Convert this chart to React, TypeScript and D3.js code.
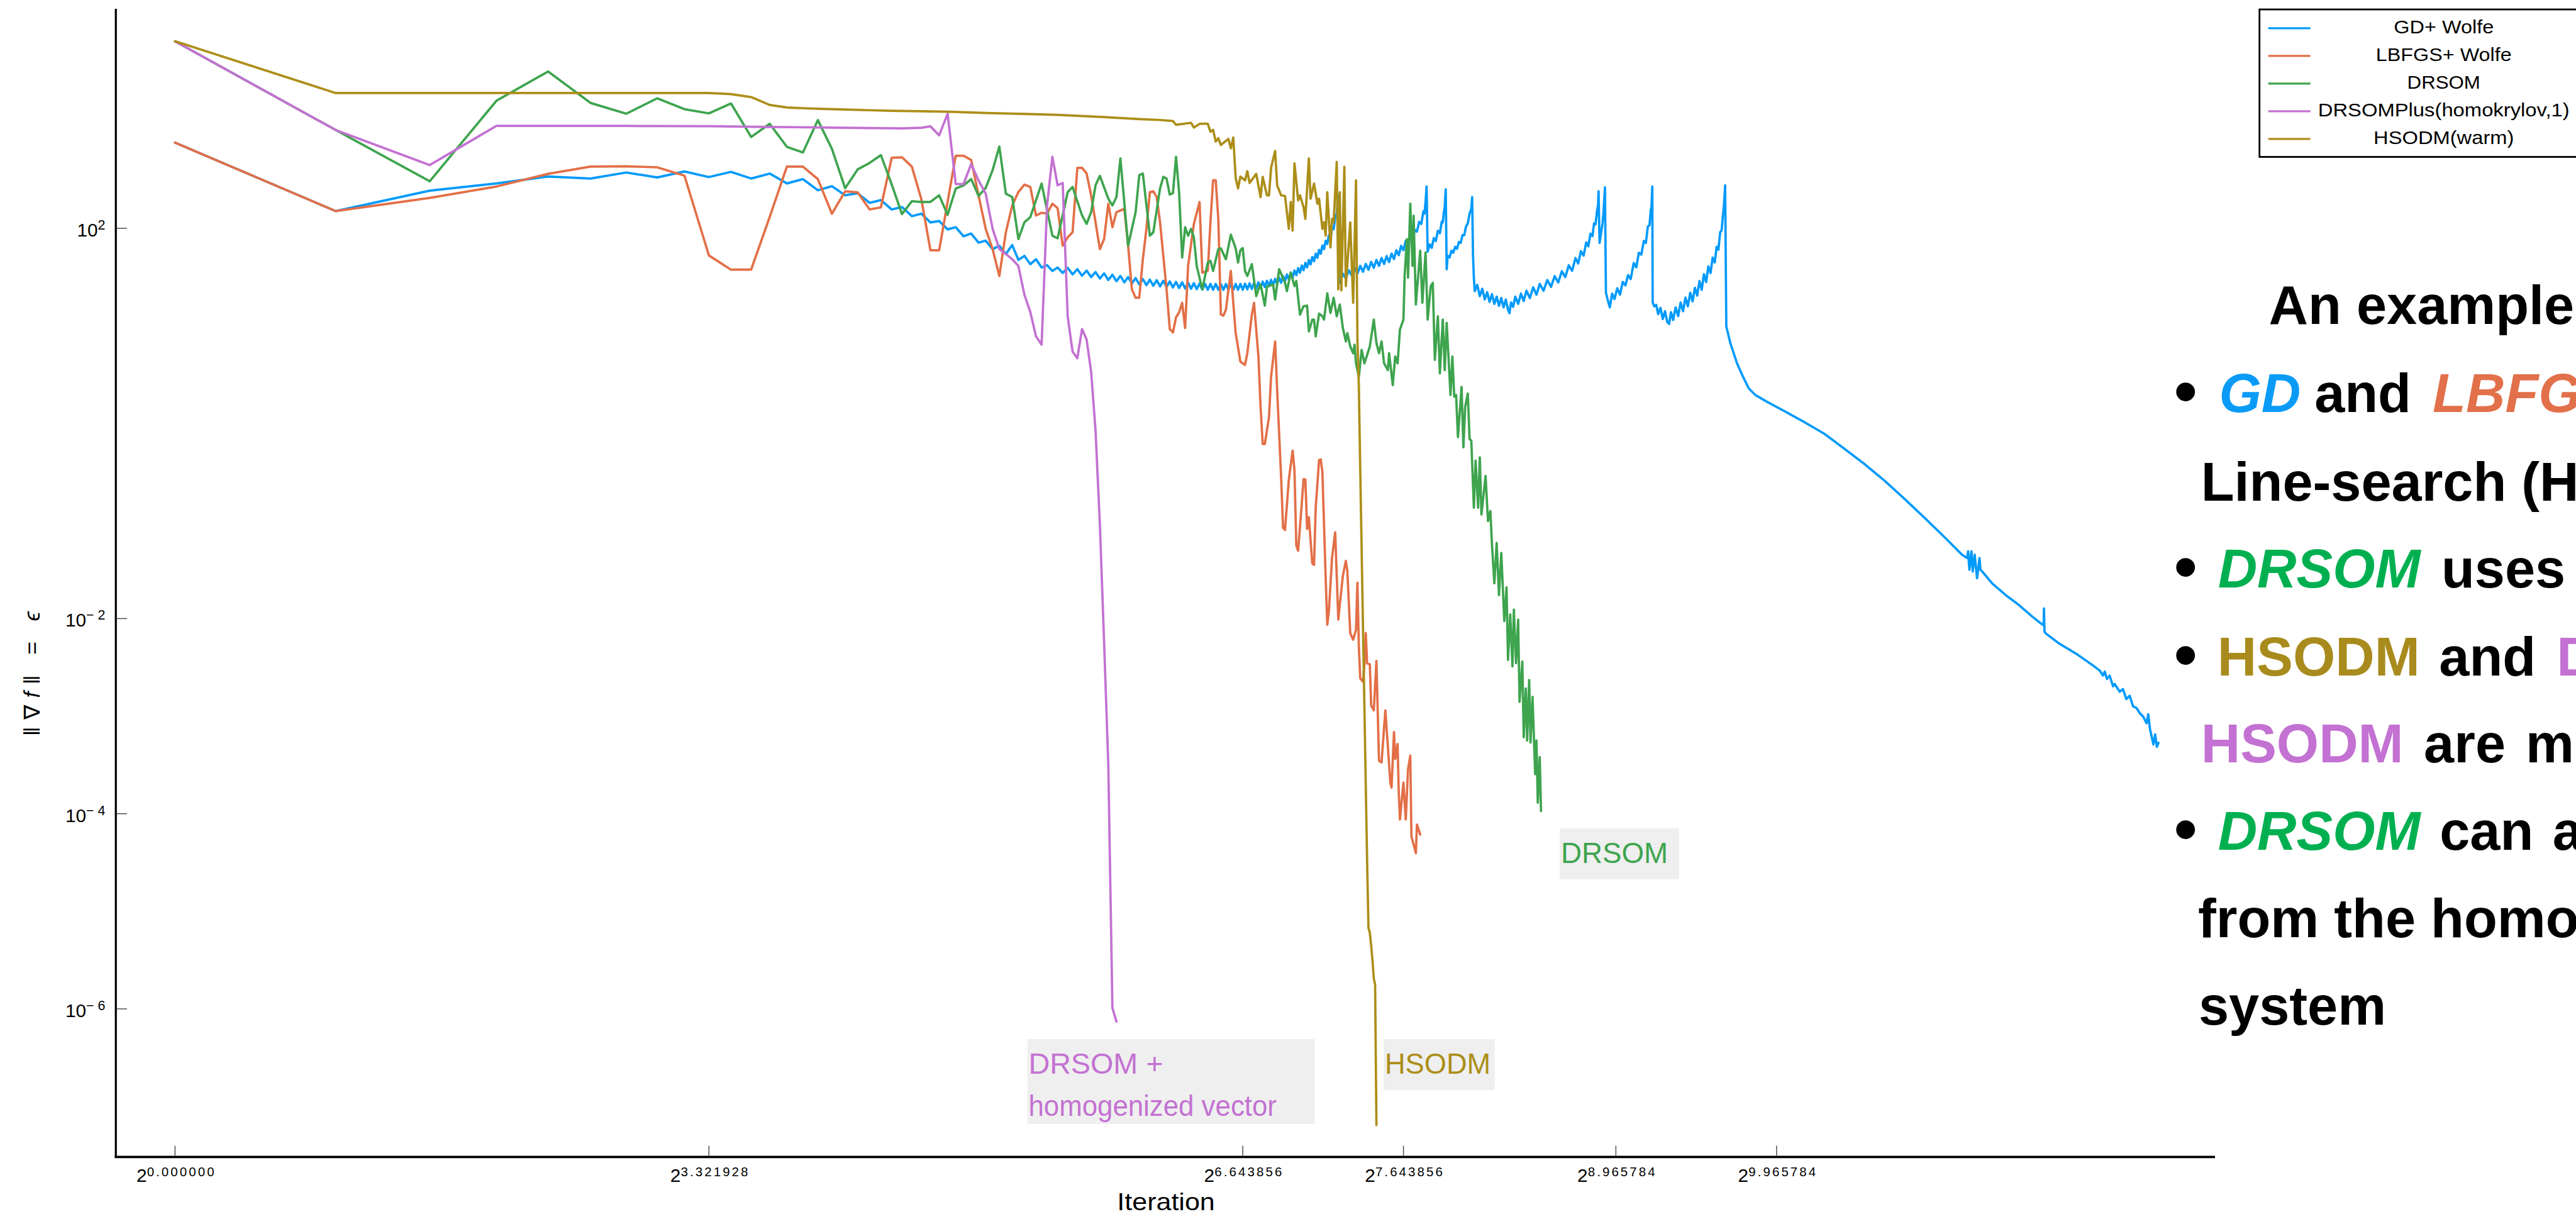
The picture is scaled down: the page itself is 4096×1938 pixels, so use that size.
import React from "react";
import * as d3 from "d3";

type Pt = [number, number];

// Each series: [iteration, log10 of ‖∇f‖]
const gdWolfe: Pt[] = [
  [1, 2.878], [2, 2.176], [3, 2.386], [4, 2.46], [5, 2.531], [6, 2.51], [7, 2.572], [8, 2.521], [9, 2.582], [10, 2.525],
  [11, 2.578], [12, 2.51], [13, 2.561], [14, 2.46], [15, 2.504], [16, 2.39], [17, 2.432], [18, 2.338], [19, 2.36], [20, 2.261],
  [21, 2.289], [22, 2.193], [23, 2.218], [24, 2.124], [25, 2.15], [26, 2.06], [27, 2.075], [28, 1.989], [29, 2.011], [30, 1.918],
  [31, 1.946], [32, 1.853], [33, 1.873], [34, 1.787], [35, 1.821], [36, 1.736], [37, 1.828], [38, 1.676], [39, 1.718], [40, 1.632],
  [41, 1.683], [42, 1.598], [43, 1.622], [44, 1.563], [45, 1.598],
  [46, 1.542], [47, 1.595], [48, 1.528], [49, 1.581], [50, 1.514], [51, 1.567], [52, 1.5], [53, 1.552], [54, 1.485], [55, 1.538],
  [56, 1.47], [57, 1.524], [58, 1.458], [59, 1.512], [60, 1.446], [61, 1.5], [62, 1.435], [63, 1.49], [64, 1.425], [65, 1.48],
  [66, 1.417], [67, 1.474], [68, 1.411], [69, 1.468], [70, 1.405], [71, 1.462], [72, 1.399], [73, 1.456], [74, 1.393], [75, 1.45],
  [76, 1.388], [77, 1.446], [78, 1.384], [79, 1.442], [80, 1.38], [81, 1.438], [82, 1.376], [83, 1.434], [84, 1.372], [85, 1.43],
  [86, 1.37], [87, 1.43], [88, 1.37], [89, 1.43], [90, 1.37], [91, 1.43], [92, 1.37], [93, 1.43], [94, 1.37], [95, 1.43],
  [96, 1.37], [97, 1.43], [98, 1.37], [99, 1.43], [100, 1.37], [101, 1.432], [102, 1.374], [103, 1.436], [104, 1.378], [105, 1.44],
  [106, 1.383], [107, 1.446], [108, 1.39], [109, 1.454], [110, 1.398], [111, 1.462], [112, 1.407], [113, 1.472], [114, 1.417], [115, 1.482],
  [116, 1.428], [117, 1.495], [118, 1.442], [119, 1.51], [120, 1.458], [121, 1.527], [122, 1.476], [123, 1.546], [124, 1.497], [125, 1.568],
  [126, 1.52], [127, 1.592], [128, 1.545], [129, 1.618], [130, 1.571], [131, 1.645], [132, 1.6], [133, 1.675], [134, 1.63], [135, 1.706],
  [136, 1.663], [137, 1.74], [138, 1.698], [139, 1.778], [140, 1.74], [141, 1.823], [142, 1.787], [143, 1.872], [144, 1.84], [145, 1.93],
  [146, 1.905], [147, 2.005], [148, 1.99], [149, 2.11], [150, 2.15], [151, 2.34],
  [152, 1.44], [154, 1.535], [156, 1.485], [158, 1.57], [160, 1.515], [162, 1.595], [164, 1.535], [166, 1.615], [168, 1.555], [170, 1.635],
  [172, 1.575], [174, 1.655], [176, 1.595], [178, 1.675], [180, 1.615], [182, 1.695], [184, 1.635], [186, 1.715], [188, 1.655], [190, 1.74],
  [192, 1.685], [194, 1.775], [196, 1.725], [198, 1.82], [200, 1.775], [202, 1.87], [204, 1.825], [206, 1.915], [208, 1.865], [210, 1.985],
  [212, 1.965], [214, 2.065], [216, 2.045], [218, 2.175], [219, 2.15], [220, 2.27], [221, 2.43],
  [222, 1.76], [224, 1.835], [226, 1.8], [228, 1.9], [230, 1.87], [232, 1.975], [234, 1.95], [236, 2.07], [237, 2.06], [238, 2.16],
  [239, 2.22], [240, 2.4],
  [241, 1.58], [242, 1.72], [244, 1.7], [246, 1.77], [248, 1.75], [250, 1.81], [252, 1.79], [254, 1.86], [256, 1.85], [258, 1.93],
  [260, 1.93], [262, 2.02], [264, 2.05], [266, 2.15], [268, 2.2], [269, 2.32],
  [270, 1.72], [271, 1.49], [272, 1.355], [275, 1.42], [278, 1.305], [281, 1.38], [284, 1.27], [287, 1.345], [290, 1.245], [293, 1.325],
  [296, 1.225], [299, 1.3], [302, 1.205], [305, 1.285], [308, 1.19], [311, 1.27], [314, 1.165], [316, 1.13], [318, 1.24], [321, 1.195],
  [324, 1.3], [328, 1.225], [332, 1.33], [336, 1.255], [340, 1.36], [345, 1.285], [350, 1.395], [355, 1.32], [360, 1.43], [366, 1.36],
  [372, 1.47], [378, 1.4], [384, 1.51], [390, 1.445], [396, 1.56], [402, 1.5], [408, 1.62], [414, 1.565], [420, 1.695], [425, 1.64],
  [430, 1.765], [435, 1.72], [440, 1.855], [444, 1.815], [448, 1.945], [452, 1.92], [455, 2.05], [458, 2.04], [461, 2.18], [463, 2.24],
  [464, 2.38],
  [466, 1.85], [469, 1.95], [472, 2.05], [474, 2.16], [477, 2.42],
  [479, 1.34], [483, 1.26], [487, 1.19], [492, 1.33], [497, 1.275], [503, 1.385], [509, 1.32], [515, 1.45], [521, 1.415], [527, 1.52],
  [533, 1.48], [540, 1.645], [546, 1.6], [552, 1.75], [558, 1.73], [564, 1.87], [569, 1.85], [574, 2.02], [578, 2.03], [581, 2.18],
  [583, 2.22], [585, 2.43],
  [586, 1.24], [590, 1.2], [595, 1.215], [600, 1.12], [606, 1.185], [612, 1.07], [618, 1.15], [624, 1.04], [629, 1.02], [634, 1.14],
  [640, 1.06], [647, 1.19], [654, 1.1], [661, 1.24], [668, 1.15], [675, 1.29], [682, 1.2], [689, 1.34], [696, 1.25], [703, 1.39],
  [710, 1.31], [717, 1.46], [724, 1.37], [731, 1.53], [738, 1.45], [745, 1.61], [752, 1.54], [759, 1.7], [766, 1.65], [772, 1.81],
  [778, 1.78], [784, 1.96], [789, 1.98], [793, 2.12], [797, 2.24], [801, 2.44],
  [805, 0.996], [819, 0.825], [843, 0.617], [862, 0.497], [887, 0.359], [913, 0.29], [960, 0.221], [1033, 0.128], [1126, 0.015],
  [1228, -0.105], [1340, -0.26], [1461, -0.416], [1594, -0.588], [1739, -0.777], [1898, -0.973], [2069, -1.172], [2225, -1.345],
  [2274, -1.379], [2284, -1.31], [2297, -1.5], [2317, -1.31], [2330, -1.517], [2350, -1.345], [2374, -1.586], [2399, -1.379],
  [2409, -1.5], [2427, -1.517], [2533, -1.638], [2685, -1.758], [2846, -1.862], [3016, -1.982], [3128, -2.05], [3165, -2.07],
  [3168, -1.896], [3176, -2.136], [3196, -2.154], [3387, -2.258], [3641, -2.36], [3915, -2.48], [4030, -2.533], [4087, -2.584],
  [4118, -2.543], [4158, -2.619], [4206, -2.584], [4268, -2.694], [4298, -2.67], [4393, -2.75], [4454, -2.722], [4520, -2.825],
  [4586, -2.791], [4653, -2.9], [4722, -2.915], [4791, -2.97], [4861, -3.005], [4932, -3.073], [4968, -2.98], [5006, -3.135],
  [5043, -3.211], [5080, -3.29], [5118, -3.187], [5156, -3.314], [5192, -3.273],
];

const lbfgsWolfe: Pt[] = [
  [1, 2.878], [2, 2.176], [3, 2.311], [4, 2.428], [5, 2.558], [6, 2.632], [7, 2.636], [8, 2.625], [9, 2.54], [10, 1.722],
  [11, 1.576], [12, 1.576], [13, 2.117], [14, 2.632], [15, 2.632], [16, 2.504], [17, 2.15], [18, 2.379], [19, 2.368], [20, 2.193],
  [21, 2.214], [22, 2.722], [23, 2.728], [24, 2.632], [25, 2.3], [26, 1.775], [27, 1.775], [28, 2.27], [29, 2.744], [30, 2.744],
  [31, 2.7], [32, 2.338], [33, 1.994], [34, 1.787], [35, 1.511], [36, 1.959], [37, 2.234], [38, 2.372], [39, 2.448], [40, 2.424],
  [41, 2.131], [42, 2.159], [43, 2.15], [44, 2.252], [45, 2.207], [46, 1.821], [47, 1.907], [48, 1.959], [49, 2.62], [50, 2.62],
  [51, 2.561], [52, 2.338], [53, 2.062], [54, 1.787], [55, 1.89], [56, 2.252], [57, 2.011], [58, 2.165], [60, 2.2], [61, 1.821],
  [62, 1.374], [63, 1.288], [64, 1.288], [65, 1.683], [66, 1.994], [67, 2.372], [68, 2.38], [69, 2.32], [70, 2.062], [72, 1.374],
  [73, 0.968], [74, 0.932], [75, 1.088], [76, 1.139], [77, 1.236], [78, 0.978], [79, 1.614], [81, 2.045], [83, 2.269], [84, 1.546],
  [86, 1.563], [87, 2.062], [88, 2.492], [89, 2.492], [90, 2.097], [91, 1.115], [92, 1.105], [93, 1.167], [95, 1.563], [96, 1.236],
  [97, 0.926], [99, 0.633], [101, 0.6], [102, 0.72], [104, 1.115], [105, 1.236], [107, 0.685], [108, 0.169], [109, -0.21], [110, -0.21],
  [112, 0.065], [113, 0.478], [115, 0.84], [116, 0.34], [118, -0.548], [119, -1.071], [120, -1.092], [122, -0.575], [124, -0.279], [125, -0.479],
  [126, -1.253], [127, -1.305], [129, -0.822], [130, -0.571], [131, -0.575], [132, -1.081], [133, -0.961], [135, -1.436], [136, -1.45], [137, -0.858],
  [139, -0.375], [140, -0.369], [141, -0.496], [143, -1.58], [144, -2.063], [145, -1.924], [147, -1.374], [149, -1.116], [151, -2.01], [152, -1.856],
  [154, -1.563], [156, -1.408], [157, -1.511], [159, -2.148], [161, -2.217], [163, -2.114], [164, -1.632], [165, -2.286], [166, -2.613], [168, -2.648],
  [169, -2.476], [170, -2.148], [171, -2.458], [173, -2.468], [174, -2.889], [176, -2.94], [178, -2.434], [180, -3.457], [182, -3.474], [184, -3.112],
  [185, -2.94], [189, -3.68], [190, -3.732], [192, -3.163], [193, -3.439], [195, -3.285], [196, -3.783], [197, -4.059], [200, -3.68], [202, -4.059],
  [204, -3.543], [206, -3.405], [207, -4.231], [211, -4.404], [212, -4.111], [215, -4.214],
];

const drsom: Pt[] = [
  [1, 3.917], [2, 3.007], [3, 2.482], [4, 3.307], [5, 3.607], [6, 3.285], [7, 3.174], [8, 3.332], [9, 3.221], [10, 3.178],
  [11, 3.279], [12, 2.936], [13, 3.071], [14, 2.835], [15, 2.777], [16, 3.109], [17, 2.814], [18, 2.411], [19, 2.604], [20, 2.67],
  [21, 2.75], [22, 2.45], [23, 2.146], [24, 2.278], [25, 2.27], [26, 2.27], [27, 2.338], [28, 2.138], [29, 2.407], [30, 2.44],
  [31, 2.504], [32, 2.331], [33, 2.414], [34, 2.596], [35, 2.837], [36, 2.355], [37, 2.32], [38, 1.89], [39, 2.062], [40, 2.114],
  [42, 2.458], [44, 1.924], [45, 1.897], [47, 2.37], [48, 2.424], [50, 2.132], [51, 2.045], [52, 2.166], [53, 2.441], [54, 2.537],
  [56, 2.303], [57, 2.234], [58, 2.32], [59, 2.716], [61, 1.821], [63, 2.166], [64, 2.544], [65, 2.561], [67, 1.924], [68, 1.959],
  [70, 2.407], [71, 2.528], [72, 2.51], [73, 2.345], [74, 2.36], [75, 2.733], [76, 2.37], [77, 1.7], [78, 2.011], [79, 1.924],
  [80, 1.994], [81, 1.907], [82, 1.614], [84, 1.374], [85, 1.511], [86, 1.649], [87, 1.666], [88, 1.563], [90, 1.787], [91, 1.794],
  [93, 1.683], [95, 1.935], [97, 1.794], [98, 1.649], [99, 1.776], [100, 1.797], [101, 1.563], [102, 1.511], [104, 1.632], [106, 1.305],
  [107, 1.374], [108, 1.425], [110, 1.208], [111, 1.401], [114, 1.425], [115, 1.27], [117, 1.58], [120, 1.442], [121, 1.356], [123, 1.546],
  [125, 1.408], [126, 1.46], [128, 1.115], [130, 1.202], [132, 1.208], [133, 0.943], [135, 1.064], [136, 1.064], [137, 0.892], [139, 1.126],
  [141, 1.098], [142, 1.064], [144, 1.333], [146, 1.133], [148, 1.288], [150, 1.098], [152, 1.218], [154, 0.978], [156, 0.84], [157, 0.926],
  [159, 0.789], [161, 0.72], [162, 0.806], [163, 0.616], [165, 0.478], [167, 0.754], [169, 0.616], [171, 0.702], [173, 0.789], [176, 1.064],
  [178, 0.824], [180, 0.72], [182, 0.84], [184, 0.616], [187, 0.547], [188, 0.72], [191, 0.393], [193, 0.685], [195, 0.616], [197, 0.962],
  [200, 1.064], [201, 1.511], [203, 1.89], [204, 1.494], [206, 2.252], [208, 1.614], [209, 2.13], [211, 1.218], [215, 1.77], [217, 1.236],
  [220, 1.752], [222, 1.064], [225, 1.408], [227, 1.44], [229, 0.651], [232, 1.098], [234, 0.513], [237, 1.064], [239, 0.547], [241, 1.03],
  [245, 0.292], [247, 0.685], [249, 0.274], [251, 0.292], [253, -0.14], [257, 0.375], [259, -0.244], [261, 0.168], [264, 0.306], [266, -0.159],
  [268, -0.176], [271, -0.864], [273, -0.382], [276, -0.864], [278, -0.347], [280, -0.933], [285, -0.537], [288, -1.001], [291, -0.898], [293, -1.243],
  [296, -1.638], [299, -1.225], [302, -1.759], [305, -1.328], [309, -2.026], [312, -1.68], [314, -2.424], [317, -1.958], [320, -2.49], [322, -1.908],
  [325, -2.458], [328, -2.01], [330, -2.854], [334, -2.44], [336, -3.216], [339, -2.717], [341, -3.25], [344, -2.63], [346, -3.27], [349, -2.802],
  [353, -3.594], [355, -3.25], [357, -3.887], [360, -3.42], [362, -3.973],
];

const drsomPlus: Pt[] = [
  [1, 3.917], [2, 3.007], [3, 2.648], [4, 3.05], [5, 3.05], [6, 3.05], [7, 3.049], [8, 3.048], [10, 3.046], [13, 3.039],
  [16, 3.034], [19, 3.028], [23, 3.024], [25, 3.03], [26, 3.045], [27, 2.953], [28, 3.174], [29, 2.454], [30, 2.454], [31, 2.66],
  [32, 2.49], [33, 2.355], [34, 1.994], [35, 1.787], [36, 1.736], [37, 1.683], [38, 1.614], [39, 1.319], [40, 1.142], [41, 0.892],
  [42, 0.807], [43, 2.234], [44, 2.733], [45, 2.44], [46, 2.465], [47, 1.098], [48, 0.737], [49, 0.668], [50, 0.968], [51, 0.858],
  [52, 0.53], [53, -0.072], [54, -1.035], [55, -2.25], [56, -3.5], [57, -5.99], [58, -6.13],
];

const hsodmWarm: Pt[] = [
  [1, 3.917], [2, 3.386], [3, 3.386], [4, 3.386], [5, 3.386], [6, 3.386], [7, 3.386], [8, 3.386], [9, 3.386], [10, 3.386],
  [11, 3.375], [12, 3.345], [13, 3.264], [14, 3.238], [15, 3.231], [16, 3.225], [18, 3.217], [20, 3.21], [22, 3.205], [25, 3.199],
  [28, 3.195], [33, 3.182], [40, 3.17], [45, 3.163], [55, 3.14], [64, 3.119], [70, 3.11], [74, 3.1], [75, 3.061], [80, 3.081],
  [81, 3.033], [83, 3.07], [86, 3.073], [87, 2.99], [88, 3.009], [89, 2.889], [90, 2.923], [91, 2.854], [94, 2.916], [95, 2.82],
  [96, 2.93], [97, 2.517], [98, 2.408], [99, 2.53], [101, 2.49], [102, 2.585], [103, 2.465], [106, 2.558], [108, 2.32], [109, 2.528],
  [111, 2.338], [112, 2.338], [113, 2.62], [115, 2.792], [116, 2.44], [118, 2.338], [120, 2.331], [122, 1.994], [123, 2.269], [124, 1.976],
  [125, 2.666], [127, 2.286], [128, 2.338], [130, 2.217], [131, 2.097], [133, 2.716], [134, 2.303], [136, 2.458], [138, 2.252], [139, 2.303],
  [141, 1.994], [142, 2.062], [143, 1.925], [144, 2.37], [146, 1.804], [147, 2.097], [148, 2.062], [150, 2.68], [151, 1.374], [152, 2.37],
  [153, 1.364], [155, 2.63], [156, 1.408], [159, 2.06], [161, 1.236], [163, 2.49], [164, 0.858], [165, 0.38], [166, -0.47], [167, -1.29],
  [168, -2.11], [169, -2.9], [170, -3.71], [171, -4.49], [172, -5.17], [173, -5.22], [174, -5.35], [175, -5.5], [176, -5.69], [177, -5.75],
  [178, -7.19],
];

const seriesNames = ["GD+ Wolfe", "LBFGS+ Wolfe", "DRSOM", "DRSOMPlus(homokrylov,1)", "HSODM(warm)"];
const seriesColors = ["#009AFA", "#E36F47", "#3EA44E", "#C371D2", "#AC8E18"];

const xTickValues = [1, 10, 100, 200, 500, 1000];
const xTickExponents = ["0.000000", "3.321928", "6.643856", "7.643856", "8.965784", "9.965784"];
const yTickValues = [1e2, 1e-2, 1e-4, 1e-6];
const yTickExponents = ["2", "\u2212 2", "\u2212 4", "\u2212 6"];

const xDomain = [0.7747, 6626];
const yDomain = [Math.pow(10, -7.523), Math.pow(10, 4.249)];

const annotationLabels = [
  { lines: ["DRSOM +", "homogenized vector"], fits: [230, 424], color: "#C371D2", iter: 39.5, value: 4.9e-7, w: 491, h: 145 },
  { lines: ["HSODM"], fits: [181], color: "#AC8E18", iter: 183.6, value: 4.9e-7, w: 190, h: 87 },
  { lines: ["DRSOM"], fits: [183], color: "#3EA44E", iter: 392.5, value: 7.1e-5, w: 204, h: 87 },
];

const FONT = "'Liberation Sans', Arial, Helvetica, sans-serif";

export default function App() {
  const W = 4403;
  const H = 2083;
  const left = 198;
  const right = 3786;
  const top = 15;
  const bottom = 1978;

  const x = d3.scaleLog().base(2).domain(xDomain).range([left, right]);
  const y = d3.scaleLog().base(10).domain(yDomain).range([bottom, top]);
  const line = d3
    .line<Pt>()
    .x((d) => x(d[0]))
    .y((d) => y(Math.pow(10, d[1])));

  const allSeries = [gdWolfe, lbfgsWolfe, drsom, drsomPlus, hsodmWarm];
  const legendWidths = [171, 232, 125, 430, 240];

  const slideSize = 93;
  const bulletSize = 112;
  const blue = "#0A9BF7";
  const orange = "#E2704A";
  const green = "#00B050";
  const gold = "#A88B1C";
  const purple = "#C371D2";

  return (
    <svg
      width={4096}
      height={1938}
      viewBox={`0 0 ${W} ${H}`}
      style={{ position: "fixed", left: 0, top: 0, display: "block", background: "#fff" }}
      fontFamily={FONT}
    >
      <rect x={0} y={0} width={W} height={H} fill="#fff" />
      <defs>
        <clipPath id="plotArea">
          <rect x={left} y={top} width={right - left} height={bottom - top} />
        </clipPath>
      </defs>

      {/* series */}
      <g clipPath="url(#plotArea)">
        {allSeries.map((s, i) => (
          <path
            key={seriesNames[i]}
            d={line(s) || ""}
            fill="none"
            stroke={seriesColors[i]}
            strokeWidth={4}
            strokeLinejoin="round"
            strokeLinecap="round"
          />
        ))}
      </g>

      {/* labelled end points */}
      {annotationLabels.map((a) => {
        const ax = x(a.iter);
        const ay = y(a.value);
        return (
          <g key={a.lines.join(" ")}>
            <rect x={ax} y={ay} width={a.w} height={a.h} fill="#EFEFEF" />
            {a.lines.map((t, k) => (
              <text
                key={t}
                x={ax + 2}
                y={ay + 59 + k * 72}
                fontSize={50}
                fill={a.color}
                textLength={a.fits[k]}
                lengthAdjust="spacingAndGlyphs"
              >
                {t}
              </text>
            ))}
          </g>
        );
      })}

      {/* axes */}
      <line x1={left} y1={top} x2={left} y2={bottom} stroke="#000" strokeWidth={3.5} />
      <line x1={left - 2} y1={bottom - 1} x2={right} y2={bottom - 1} stroke="#000" strokeWidth={4} />

      {xTickValues.map((t, i) => {
        const tx = x(t);
        return (
          <g key={"xt" + t}>
            <line x1={tx} y1={bottom - 3} x2={tx} y2={bottom - 20} stroke="#444" strokeWidth={1.5} />
            <text x={tx - 66} y={2020} fontSize={32} fill="#000">
              2
            </text>
            <text x={tx - 48} y={2010} fontSize={22} fill="#000" textLength={115} lengthAdjust="spacing">
              {xTickExponents[i]}
            </text>
          </g>
        );
      })}

      {yTickValues.map((t, i) => {
        const ty = y(t);
        return (
          <g key={"yt" + i}>
            <line x1={left + 1} y1={ty} x2={left + 19} y2={ty} stroke="#444" strokeWidth={1.5} />
            <text x={180} y={ty + 14} fontSize={32} textAnchor="end" fill="#000">
              10
              <tspan dy={-12} fontSize={23}>
                {yTickExponents[i]}
              </tspan>
            </text>
          </g>
        );
      })}

      <text x={1993} y={2068} fontSize={42} textAnchor="middle" textLength={167} lengthAdjust="spacingAndGlyphs">
        Iteration
      </text>
      <text
        transform="translate(68,1151) rotate(-90)"
        fontSize={38}
        textAnchor="middle"
        textLength={213}
        lengthAdjust="spacing"
      >
        {"\u2016\u2207"}
        <tspan fontStyle="italic">f</tspan>
        {"\u2016 = "}
        <tspan fontStyle="italic">{"\u03F5"}</tspan>
      </text>

      {/* legend */}
      <rect x={3862} y={16} width={620} height={252} fill="#fff" stroke="#000" strokeWidth={3} />
      {seriesNames.map((name, i) => {
        const ly = 48 + i * 47.3;
        return (
          <g key={"lg" + name}>
            <line x1={3877} y1={ly} x2={3949} y2={ly} stroke={seriesColors[i]} strokeWidth={3.5} />
            <text
              x={4177}
              y={ly + 9}
              fontSize={32}
              textAnchor="middle"
              textLength={legendWidths[i]}
              lengthAdjust="spacingAndGlyphs"
            >
              {name}
            </text>
          </g>
        );
      })}

      {/* notes beside the chart */}
      <g fontWeight="bold" fontSize={slideSize} fill="#000">
        <text x={3878} y={554}>An example</text>

        <text x={3716} y={706} fontSize={bulletSize}>{"\u2022"}</text>
        <text x={3793} y={704} fill={blue} fontStyle="italic">GD</text>
        <text x={3956} y={704}>and</text>
        <text x={4158} y={704} fill={orange} fontStyle="italic">LBFGS</text>

        <text x={3762} y={856}>Line-search (HZ)</text>

        <text x={3716} y={1006} fontSize={bulletSize}>{"\u2022"}</text>
        <text x={3791} y={1004} fill={green} fontStyle="italic">DRSOM</text>
        <text x={4173} y={1004}>uses</text>

        <text x={3716} y={1156} fontSize={bulletSize}>{"\u2022"}</text>
        <text x={3790} y={1154} fill={gold}>HSODM</text>
        <text x={4169} y={1154}>and</text>
        <text x={4370} y={1154} fill={purple}>DRSOM+</text>

        <text x={3762} y={1303} fill={purple}>HSODM</text>
        <text x={4143} y={1303}>are</text>
        <text x={4317} y={1303}>much</text>

        <text x={3716} y={1454} fontSize={bulletSize}>{"\u2022"}</text>
        <text x={3791} y={1452} fill={green} fontStyle="italic">DRSOM</text>
        <text x={4170} y={1452}>can</text>
        <text x={4363} y={1452}>also</text>

        <text x={3757} y={1602}>from the homogenized</text>
        <text x={3758} y={1751}>system</text>
      </g>
    </svg>
  );
}
